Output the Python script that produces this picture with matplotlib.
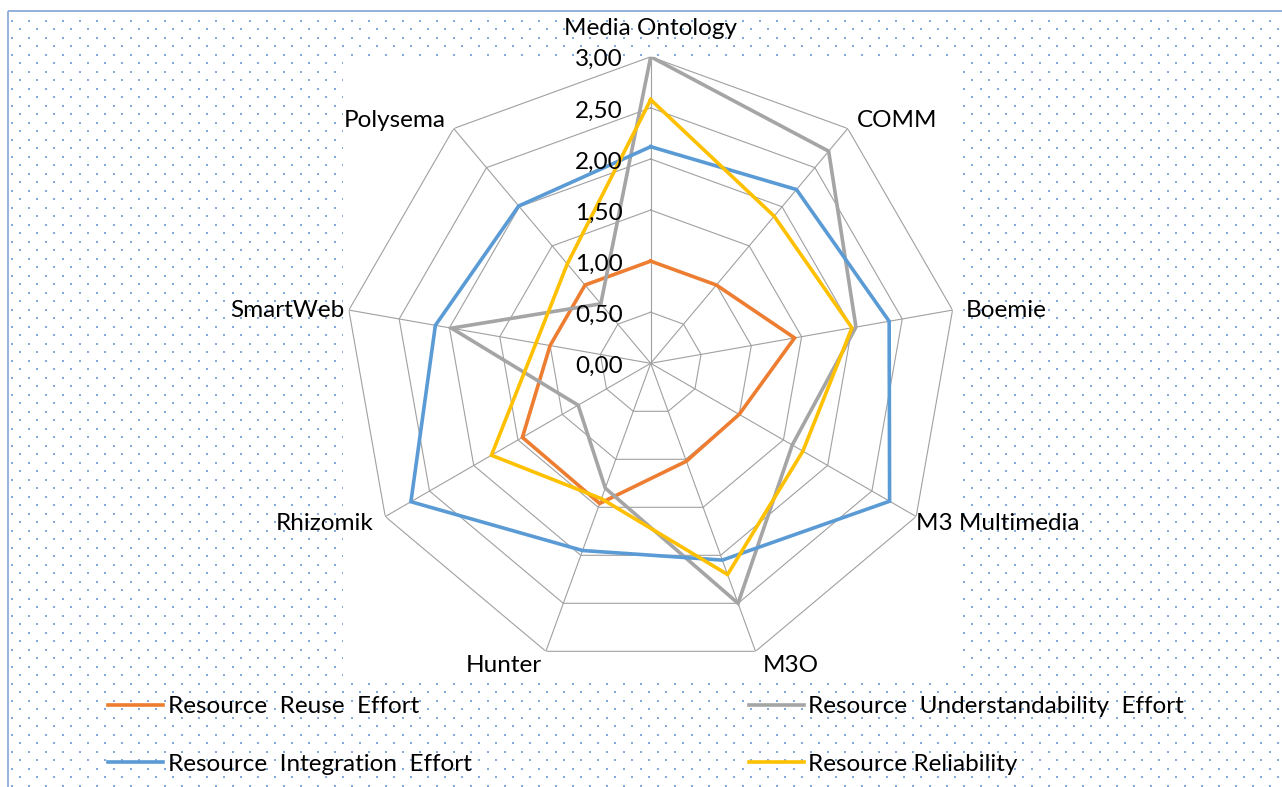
import numpy as np
import matplotlib
matplotlib.use("Agg")
import matplotlib.pyplot as plt
from matplotlib.patches import Rectangle
from matplotlib.transforms import offset_copy

plt.rcParams["font.family"] = ["Lato", "DejaVu Sans"]

categories = ["Media Ontology", "COMM", "Boemie", "M3 Multimedia", "M3O",
              "Hunter", "Rhizomik", "SmartWeb", "Polysema"]
reuse = [1.00, 1.00, 1.43, 1.00, 1.02, 1.46, 1.45, 1.00, 1.00]
understand = [3.00, 2.71, 2.04, 1.60, 2.50, 1.30, 0.82, 1.98, 0.76]
integration = [2.12, 2.22, 2.37, 2.70, 2.05, 1.95, 2.71, 2.14, 2.01]
reliability = [2.58, 1.88, 2.00, 1.72, 2.20, 1.41, 1.80, 1.14, 1.27]
rticks = [0.0, 0.5, 1.0, 1.5, 2.0, 2.5, 3.0]

series = [
    ("Resource  Reuse  Effort", reuse, "#ED7D31"),
    ("Resource  Understandability  Effort", understand, "#A5A5A5"),
    ("Resource  Integration  Effort", integration, "#5B9BD5"),
    ("Resource Reliability", reliability, "#FFC000"),
]

FS = 17.5
W, H = 1282, 787
fig = plt.figure(figsize=(W / 100, H / 100), dpi=100)
fig.patch.set_facecolor("white")

# background: dotted fill, border, white plot area
bg = fig.add_axes([0, 0, 1, 1])
bg.set_xlim(0, W)
bg.set_ylim(H, 0)
bg.axis("off")
xs, ys = [], []
for k, y in enumerate(np.arange(20.7, H, 8.5)):
    x0 = 11.7 if k % 2 == 0 else 20.2
    for x in np.arange(x0, W, 17):
        xs.append(x)
        ys.append(y)
bg.scatter(xs, ys, s=2.4, marker="s", color="#86A9DD", linewidths=0, zorder=1)
bg.add_patch(Rectangle((343, 57), 620, 624, facecolor="white", edgecolor="none", zorder=2))
bg.add_patch(Rectangle((8, 11), W + 20, H + 20, fill=False, edgecolor="#8EAADB", lw=1.3, zorder=3))

# radar
cx, cy, R = 650.7, 363.3, 306.5
ax = fig.add_axes([(cx - R) / W, 1 - (cy + R) / H, 2 * R / W, 2 * R / H], projection="polar")
ax.patch.set_visible(False)
ax.set_theta_zero_location("N")
ax.set_theta_direction(-1)
ax.set_ylim(0, 3)
ax.axis("off")

n = len(categories)
theta = np.linspace(0, 2 * np.pi, n, endpoint=False)
theta_c = np.append(theta, theta[0])

grid_c = "#A0A0A0"
for r in rticks[1:]:
    ax.plot(theta_c, [r] * (n + 1), color=grid_c, lw=0.8, zorder=1)
for t in theta:
    ax.plot([t, t], [0, 3], color=grid_c, lw=0.8, zorder=1)

for name, vals, col in series:
    ax.plot(theta_c, vals + vals[:1], color=col, lw=2.6, label=name, zorder=3,
            solid_joinstyle="miter")

# radial labels
tr = offset_copy(ax.transData, fig=fig, x=-28, y=-3, units="dots")
for r in rticks:
    ax.text(0, r, f"{r:.2f}".replace(".", ","), transform=tr, ha="right", va="center",
            fontsize=FS, color="black", zorder=4)

# category labels
lab_off = [(0, 28, "center"), (9, 8, "left"), (13, 0, "left"), (0, -7, "left"),
           (7, -14, "left"), (-4, -14, "right"), (-12, -7, "right"),
           (-4, 0, "right"), (-8, 8, "right")]
for t, name, (dx, dy, ha) in zip(theta, categories, lab_off):
    trl = offset_copy(ax.transData, fig=fig, x=dx, y=dy, units="dots")
    ax.text(t, 3, name, transform=trl, ha=ha, va="center", fontsize=FS, zorder=4)

handles = ax.get_lines()[-4:]
order = [0, 2, 1, 3]
leg = fig.legend([handles[i] for i in order], [series[i][0] for i in order],
                 ncol=2, loc="upper left", bbox_to_anchor=(108 / W, 1 - 696 / H),
                 frameon=False, fontsize=FS, handlelength=2.26, handletextpad=0.2,
                 columnspacing=11.4, labelspacing=1.51, borderpad=0, borderaxespad=0)

fig.savefig("out.png", dpi=100)
